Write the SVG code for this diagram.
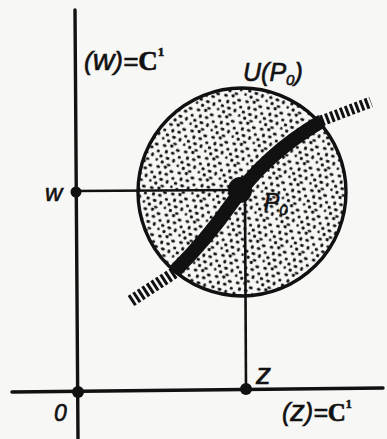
<svg xmlns="http://www.w3.org/2000/svg" width="387" height="439" viewBox="0 0 387 439">
<style>
.ax{stroke:#111;stroke-width:3.4;fill:none;stroke-linecap:round}
.thin{stroke:#111;stroke-width:2.6;fill:none}
.lbl{font-family:"Liberation Sans","DejaVu Sans",sans-serif;font-style:italic;fill:#111;stroke:#111;stroke-width:0.6}
.bold{font-family:"Liberation Serif","DejaVu Serif",serif;font-weight:bold;font-style:normal;fill:#111}
.dot{fill:#111}
</style>
<defs>
<pattern id="stip" width="22" height="22" patternUnits="userSpaceOnUse" patternTransform="rotate(17)">
<g fill="#111">
<ellipse cx="2" cy="3" rx="1.9" ry="1.5"/>
<ellipse cx="9" cy="1.5" rx="1.6" ry="1.8"/>
<ellipse cx="16" cy="4" rx="2" ry="1.4"/>
<ellipse cx="5.5" cy="8.5" rx="1.5" ry="1.9"/>
<ellipse cx="12" cy="8" rx="1.9" ry="1.5"/>
<ellipse cx="19.5" cy="10" rx="1.6" ry="1.6"/>
<ellipse cx="1.5" cy="14" rx="1.8" ry="1.6"/>
<ellipse cx="8.5" cy="14.5" rx="2" ry="1.4"/>
<ellipse cx="15" cy="15" rx="1.5" ry="1.9"/>
<ellipse cx="20.5" cy="18.5" rx="1.2" ry="1.5"/>
<ellipse cx="4.5" cy="19.5" rx="1.6" ry="1.7"/>
<ellipse cx="11.5" cy="20.5" rx="1.9" ry="1.3"/>
</g>
</pattern>
</defs>
<rect width="387" height="439" fill="#f7f7f5"/>

<g id="neighbourhood">
<circle cx="242" cy="192" r="104" fill="#f7f7f5"/>
<circle cx="242" cy="192" r="104" fill="url(#stip)" stroke="#111" stroke-width="3.4"/>
</g>

<g id="connectors">
<line class="ax" x1="75" y1="10" x2="78" y2="439"/>
<line class="ax" x1="12" y1="392" x2="383" y2="388"/>
<line class="thin" x1="76" y1="191" x2="238" y2="190"/>
<line class="thin" x1="245" y1="196" x2="246" y2="389"/>
</g>

<g id="curve">
<path d="M131,301 L177,271" stroke="#111" stroke-width="12" stroke-dasharray="3 2.4" fill="none"/>
<path d="M321,121 L371,102" stroke="#111" stroke-width="11" stroke-dasharray="3 2.3" fill="none"/>
<path d="M175,271 C198,248 216,226 232,203 C246,182 272,150 322,121" stroke="#111" stroke-width="14" fill="none" stroke-linecap="butt"/>
</g>

<g id="point-P0"><ellipse class="dot" cx="240" cy="190" rx="12" ry="13"/></g>
<g id="point-w"><circle class="dot" cx="76" cy="192" r="5.5"/></g>
<g id="point-O"><circle class="dot" cx="78" cy="392" r="6"/></g>
<g id="point-z"><circle class="dot" cx="246" cy="389" r="6"/></g>

<g id="labels">
<text class="lbl" x="84" y="70" font-size="26">(<tspan font-size="30">w</tspan>)=<tspan class="bold" font-size="27">C</tspan><tspan class="bold" font-size="13" dy="-14">1</tspan></text>
<text class="lbl" x="243" y="81" font-size="25">U(P<tspan font-size="15" dy="4">0</tspan><tspan dy="-4">)</tspan></text>
<text class="lbl" x="264" y="210" font-size="23">P<tspan font-size="15" dy="5">0</tspan></text>
<text class="lbl" x="45" y="201" font-size="24">w</text>
<text class="lbl" x="256" y="384" font-size="30">z</text>
<text class="lbl" x="54" y="421" font-size="23">0</text>
<text class="lbl" x="282" y="421" font-size="25">(<tspan font-size="29">z</tspan>)=<tspan class="bold" font-size="25">C</tspan><tspan class="bold" font-size="12" dy="-13">1</tspan></text>
</g>
</svg>
